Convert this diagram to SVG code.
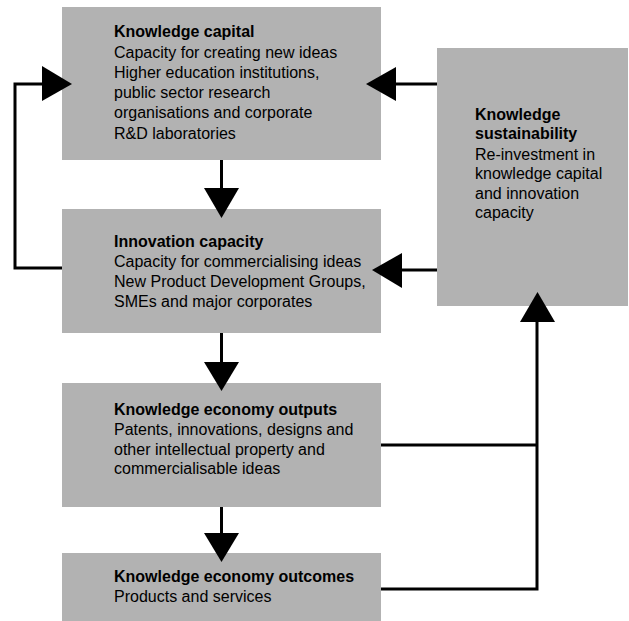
<svg xmlns="http://www.w3.org/2000/svg" width="629" height="621" viewBox="0 0 629 621">
<style>
.box{fill:#b2b2b2;}
text{font-family:"Liberation Sans",Arial,Helvetica,sans-serif;font-size:16px;fill:#000;}
.t{font-weight:bold;}
.ln{fill:none;stroke:#000;stroke-width:3;stroke-linejoin:miter;}
.ah{fill:#000;stroke:none;}
</style>
<rect x="0" y="0" width="629" height="621" fill="#fff"/>
<g id="knowledge-capital">
<rect class="box" x="62" y="7" width="319" height="153"/>
<text x="114" y="37" class="t">Knowledge capital</text>
<text x="114" y="58">Capacity for creating new ideas</text>
<text x="114" y="78">Higher education institutions,</text>
<text x="114" y="98">public sector research</text>
<text x="114" y="118">organisations and corporate</text>
<text x="114" y="139">R&amp;D laboratories</text>
</g>
<g id="innovation-capacity">
<rect class="box" x="62" y="209" width="319" height="124"/>
<text x="114" y="247" class="t">Innovation capacity</text>
<text x="114" y="267">Capacity for commercialising ideas</text>
<text x="114" y="287">New Product Development Groups,</text>
<text x="114" y="307">SMEs and major corporates</text>
</g>
<g id="knowledge-economy-outputs">
<rect class="box" x="62" y="383" width="319" height="124"/>
<text x="114" y="415" class="t">Knowledge economy outputs</text>
<text x="114" y="435">Patents, innovations, designs and</text>
<text x="114" y="455">other intellectual property and</text>
<text x="114" y="474">commercialisable ideas</text>
</g>
<g id="knowledge-economy-outcomes">
<rect class="box" x="62" y="553" width="319" height="68"/>
<text x="114" y="582" class="t">Knowledge economy outcomes</text>
<text x="114" y="602">Products and services</text>
</g>
<g id="knowledge-sustainability">
<rect class="box" x="437" y="48" width="191" height="258"/>
<text x="475" y="120" class="t">Knowledge</text>
<text x="475" y="139" class="t">sustainability</text>
<text x="475" y="160">Re-investment in</text>
<text x="475" y="179">knowledge capital</text>
<text x="475" y="199">and innovation</text>
<text x="475" y="218">capacity</text>
</g>
<g id="connectors">
<polyline class="ln" points="62,268 15,268 15,84 44,84"/>
<polygon class="ah" points="42,66 72,84 42,101"/>
<line class="ln" x1="437" y1="84" x2="394" y2="84"/>
<polygon class="ah" points="396,67 366,84 396,101"/>
<line class="ln" x1="437" y1="270" x2="400" y2="270"/>
<polygon class="ah" points="402,253 372,270 402,288"/>
<line class="ln" x1="221.5" y1="160" x2="221.5" y2="190"/>
<polygon class="ah" points="204,188 239,188 221.5,218"/>
<line class="ln" x1="221.5" y1="333" x2="221.5" y2="364"/>
<polygon class="ah" points="204,362 239,362 221.5,391"/>
<line class="ln" x1="221.5" y1="507" x2="221.5" y2="535"/>
<polygon class="ah" points="204,533 239,533 221.5,562"/>
<polyline class="ln" points="381,589 537,589 537,320"/>
<line class="ln" x1="381" y1="445" x2="537" y2="445"/>
<polygon class="ah" points="520,322 555,322 537.5,292"/>
</g>
</svg>
